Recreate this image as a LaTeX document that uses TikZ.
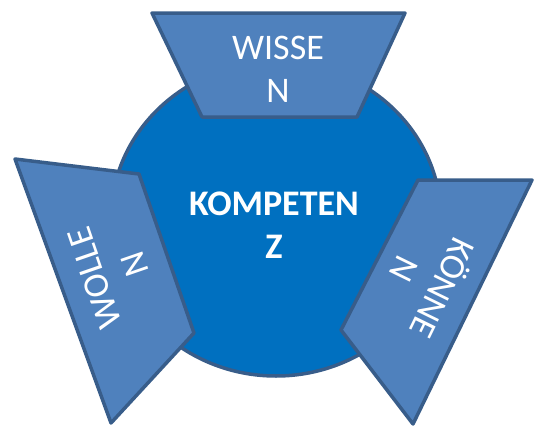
\documentclass[tikz,border=0pt]{standalone}
\usepackage{fontspec}
\setmainfont{Carlito}
\usepackage{xcolor}
\usepackage{tikz}

\definecolor{kernblau}{HTML}{0070C0}
\definecolor{feldblau}{HTML}{4F81BD}
\definecolor{randblau}{HTML}{385D8A}

\begin{document}
\begin{tikzpicture}[x=1pt,y=-1pt,
    feld/.style={draw=randblau, fill=feldblau, line width=3.5pt, line join=round},
    kern/.style={draw=randblau, fill=kernblau, line width=3.5pt},
    schrift/.style={text=white, align=center, inner sep=0pt,
        font=\fontsize{36}{43}\selectfont}]
    \useasboundingbox (0,0) rectangle (535,431);

    % Shapes
    \filldraw[kern] (276,219) ellipse[x radius=165, y radius=157];
    \filldraw[feld] (152,13) -- (405,13) -- (357,117) -- (202,117) -- cycle;
    \filldraw[feld] (15,159) -- (139,174) -- (194,333) -- (111,423) -- cycle;
    \filldraw[feld] (418,180) -- (532,180) -- (413,424) -- (341,330) -- cycle;

    % Nodes
    \node[schrift, font=\fontsize{36}{43}\selectfont\bfseries] (kompetenz) at (274,225) {KOMPETEN\\Z};
    \node[schrift] (wissen) at (278,69.5) {WISSE\\N};
    \node[schrift, rotate=109] (wollen) at (114.5,271) {WOLLE\\N};
    \node[schrift, rotate=-116] (koennen) at (425.5,280) {KÖNNE\\N};
\end{tikzpicture}
\end{document}
